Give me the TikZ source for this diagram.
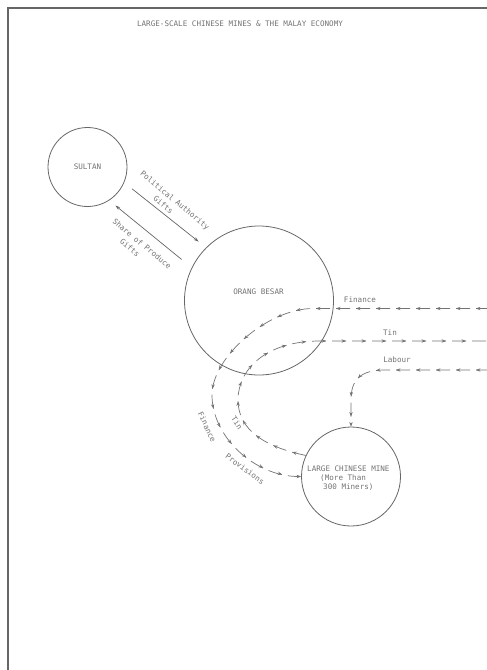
\documentclass[tikz,border=0pt]{standalone}
\usepackage{fontspec}
\setmonofont{DejaVu Sans Mono}
\usetikzlibrary{arrows.meta,decorations.markings}
\begin{document}
\begin{tikzpicture}[x=1pt,y=-1pt,
  lbl/.style={font=\ttfamily\fontsize{7.6}{9}\selectfont, text=black!55, inner sep=0pt},
  twoline/.style={lbl, align=center, font=\ttfamily\fontsize{7.6}{11}\selectfont},
  ring/.style={circle, draw=black!60, line width=0.8pt, inner sep=0pt},
  solidarrow/.style={draw=black!60, line width=0.7pt, -{Stealth[length=5pt,width=3.2pt]}},
  flow/.style={draw=black!55, line width=0.7pt, dash pattern=on 14pt off 6pt,
    postaction={decorate},
    decoration={markings, mark=between positions 14pt and -6pt step 20pt with
      {\arrow[black!55]{Stealth[length=4.5pt,width=3.4pt]}}}},
  flowend/.style={flow, -{Stealth[length=4.5pt,width=3.4pt]}}
]
\useasboundingbox (0,0) rectangle (487,670);
% frame
\coordinate (fbl) at (8,670);
\coordinate (ftl) at (8,8);
\coordinate (ftr) at (487,8);
\draw[black!60, line width=1.4pt] (fbl) -- (ftl) -- (ftr);

% title
\node[lbl] (title) at (240,24) {LARGE-SCALE CHINESE MINES \& THE MALAY ECONOMY};

% circles
\node[ring, minimum size=79pt, lbl] (sultan) at (87.5,167) {SULTAN};
\node[ring, minimum size=149pt] (orang) at (259,300.5) {};
\node[lbl] (orangt) at (258.5,291.5) {ORANG BESAR};
\node[ring, minimum size=99pt] (mine) at (351,476.5) {};
\node[lbl, anchor=west, align=left, font=\ttfamily\fontsize{7.6}{9.3}\selectfont] (minet) at (307,478)
  {LARGE CHINESE MINE\\\hspace*{13pt}(More Than\\\hspace*{16pt}300 Miners)};

% Sultan <-> Orang Besar
\draw[solidarrow, shorten <=10pt, shorten >=9.5pt] (sultan.-23) -- (orang.135);
\draw[solidarrow, shorten <=13pt, shorten >=8pt] (orang.154) -- (sultan.-57.5);
\node[twoline, rotate=-39.8] (pa) at (171.5,204.5)
  {Political Authority\\\hspace*{0pt}Gifts\hspace*{12pt}};
\node[twoline, rotate=-39.8] (sop) at (138.5,248)
  {Share of Produce\\\hspace*{0pt}Gifts\hspace*{13pt}};

% right-side flows
\coordinate (finR) at (490,308.5);
\coordinate (tinR) at (490,341);
\coordinate (labR) at (490,370);

\draw[flowend] (finR) -- (313,308.5)
  .. controls (268,308.5) and (212,357) .. (212,395)
  .. controls (212,437) and (255,476.5) .. (mine.west);
\draw[flow] (mine.155) .. controls (265,447) and (238,430) .. (238,400)
  .. controls (238,370) and (265,341) .. (320,341) -- (tinR);
\draw[flowend] (labR) -- (385,370) .. controls (360,370) and (351,380) .. (351,400) -- (mine.north);

\node[lbl] (finl) at (360,300) {Finance};
\node[lbl] (tinl) at (390,333) {Tin};
\node[lbl] (labl) at (397,359.5) {Labour};
\node[lbl, rotate=-65] (finl2) at (207,427) {Finance};
\node[lbl, rotate=-36] (provl) at (245,469) {Provisions};
\node[lbl, rotate=-57] (tinl2) at (237,423) {Tin};
\end{tikzpicture}
\end{document}
